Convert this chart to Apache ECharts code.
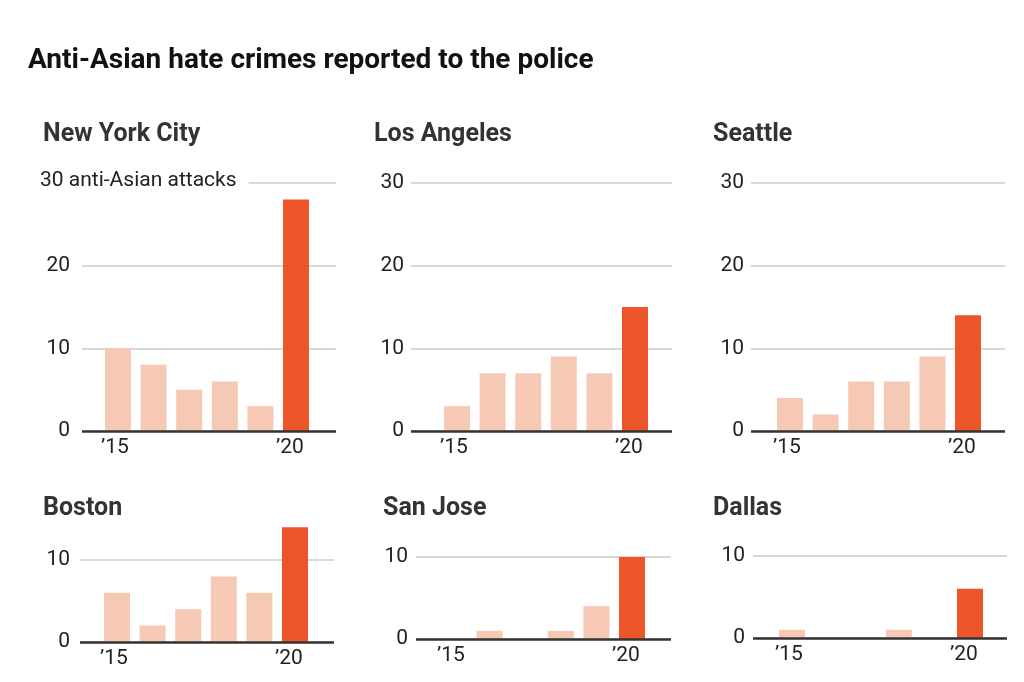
<!DOCTYPE html>
<html>
<head>
<meta charset="utf-8">
<script src="https://cdn.jsdelivr.net/npm/echarts@6/dist/echarts.min.js"></script>
<style>
  html, body { margin: 0; background: #fff; }
  #chart { width: 1024px; height: 682px; }
</style>
</head>
<body>
<div id="chart"></div>
<script>
// data
const cities = ['New York City', 'Los Angeles', 'Seattle', 'Boston', 'San Jose', 'Dallas'];
const years = [2015, 2016, 2017, 2018, 2019, 2020];
const nyc = [10, 8, 5, 6, 3, 28];
const la = [3, 7, 7, 9, 7, 15];
const seattle = [4, 2, 6, 6, 9, 14];
const boston = [6, 2, 4, 8, 6, 14];
const sanJose = [0, 1, 0, 1, 4, 10];
const dallas = [1, 0, 0, 1, 0, 6];
const values = [nyc, la, seattle, boston, sanJose, dallas];
const yMax = [30, 30, 30, 10, 10, 10];

const FONT = "'Liberation Sans Narrow', 'Roboto', sans-serif";
const LIGHT = '#f6c9b4', DARK = '#ec552a';

// panel layout: grid left/right, first bar center, plot top/bottom, label margin, title pos
const panels = [
  { l: 82, r: 336, c0: 118, top: 183, bot: 431, m: 12, tx: 43, ty: 136 },
  { l: 411, r: 672, c0: 457, top: 183, bot: 431, m: 7, tx: 374, ty: 136 },
  { l: 751, r: 1005, c0: 790, top: 183, bot: 431, m: 7, tx: 713, ty: 136 },
  { l: 80, r: 334, c0: 117, top: 560, bot: 642, m: 10, tx: 43, ty: 510 },
  { l: 416, r: 671, c0: 454, top: 557, bot: 639, m: 8, tx: 383, ty: 510 },
  { l: 753, r: 1007, c0: 792, top: 556, bot: 638, m: 8, tx: 713, ty: 510 }
];
const U = 35.6;

const grid = [], xAxis = [], yAxis = [], series = [];
const graphic = [{
  type: 'text', left: 28, top: 47,
  style: { text: 'Anti-Asian hate crimes reported to the police', font: 'bold 28px ' + FONT, fill: '#121212' }
}];

panels.forEach((p, i) => {
  const min = -(p.c0 - p.l) / U;
  const max = min + (p.r - p.l) / U;
  grid.push({ left: p.l, width: p.r - p.l, top: p.top, height: p.bot - p.top });
  xAxis.push({
    type: 'value', gridIndex: i, min: min, max: max,
    show: false
  });
  yAxis.push({
    type: 'value', gridIndex: i, min: 0, max: yMax[i], interval: 10,
    axisLine: { show: false }, axisTick: { show: false },
    splitLine: { lineStyle: { color: '#d9d9d9', width: 2 } },
    axisLabel: {
      margin: p.m, color: '#222', fontFamily: FONT, fontSize: 21,
      formatter: v => (i === 0 && v === 30) ? '' : String(v)
    }
  });
  series.push({
    type: 'bar', xAxisIndex: i, yAxisIndex: i, barWidth: 26, clip: false,
    data: years.map((y, j) => ({
      value: [j, values[i][j]],
      itemStyle: { color: j === years.length - 1 ? DARK : LIGHT }
    })),
    markLine: {
      silent: true, symbol: 'none', label: { show: false },
      lineStyle: { color: '#333', width: 2.5, type: 'solid' },
      data: [{ yAxis: 0 }]
    }
  });
  graphic.push({
    type: 'text', left: p.tx, top: p.ty - 14,
    style: { text: cities[i], font: 'bold 25px ' + FONT, fill: '#333' }
  });
  // year labels under first and last bar
  const yl = p.bot + 6;
  graphic.push({ type: 'text', left: p.c0 - 17, top: yl,
    style: { text: '\u201915', font: '21px ' + FONT, fill: '#222' } });
  graphic.push({ type: 'text', left: p.c0 + 5 * U - 20, top: yl,
    style: { text: '\u201920', font: '21px ' + FONT, fill: '#222' } });
});

// unit label replacing NYC top tick
graphic.push({
  type: 'text', left: 40, top: 170, z: 100,
  style: { text: '30 anti-Asian attacks', font: '21px ' + FONT, fill: '#222',
    backgroundColor: '#fff', padding: [0, 12, 0, 0] }
});

const chart = echarts.init(document.getElementById('chart'));
chart.setOption({ animation: false, grid, xAxis, yAxis, series, graphic });
</script>
</body>
</html>
